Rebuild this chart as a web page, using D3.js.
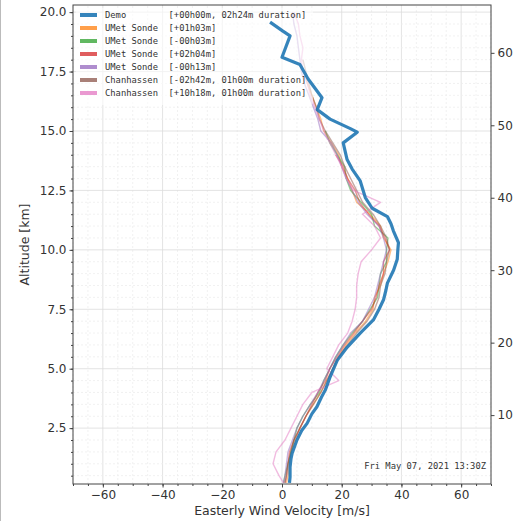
<!DOCTYPE html>
<html>
<head>
<meta charset="utf-8">
<script src="https://cdn.jsdelivr.net/npm/d3@7"></script>
<style>
  body { margin: 0; background: #fff; }
  svg { display: block; }
</style>
</head>
<body>
<div id="chart"></div>
<script>
const width = 514;
const height = 521;
const margin = { left: 73, right: 23, top: 5, bottom: 37 };

// Demo profile: [velocity m/s, altitude km]
const demoVel = [2.5, 2.7, 2.7, 3.0, 3.4, 5.0, 6.6, 8.4, 10.0, 11.7, 13.2, 14.5, 16.1, 17.3, 18.5, 21.8, 26.2, 30.6, 32.5, 34.0, 34.8, 35.3, 37.4, 38.6, 38.8, 39.0, 37.3, 36.5, 35.3, 30.2, 27.9, 26.2, 23.5, 21.8, 20.5, 25.2, 22.9, 16.1, 11.8, 13.4, 8.7, 6.0, 0.0, 2.7, 0.3, -4.0];
const demoAlt = [0.2, 0.44, 0.86, 1.2, 1.45, 2.0, 2.4, 2.7, 3.1, 3.4, 3.8, 4.1, 4.65, 5.0, 5.35, 5.9, 6.5, 7.05, 7.5, 7.9, 8.3, 8.6, 9.15, 9.6, 10.0, 10.3, 10.8, 11.1, 11.4, 11.75, 12.2, 12.9, 13.4, 13.8, 14.5, 14.95, 15.1, 15.5, 15.9, 16.4, 17.2, 17.8, 18.1, 19.0, 19.2, 19.58];

// sonde altitude levels (km)
const sondeAlt = [0.2, 0.5, 1, 1.5, 2, 2.5, 3, 3.5, 4, 4.5, 5, 5.5, 6, 6.5, 7, 7.5, 8, 8.5, 9, 9.5, 10, 10.5, 11, 11.5, 12, 12.5, 13, 13.5, 14, 14.5, 15, 15.5, 16, 16.5, 17, 17.5, 18, 18.5, 19, 19.5, 20];

const orangeVel = [1.5, 2, 2.5, 3, 4.5, 6, 8, 10.5, 13, 15, 17, 19, 21.5, 24.5, 28, 30.5, 31, 33, 34, 35.5, 36.5, 34, 33, 29.5, 25, 23.5, 22, 20, 19, 16.5, 14, 13, 11.5, 10, 8.5, 7.5];
const greenVel = [0.5, 1, 2, 3, 4, 5, 7, 9.5, 12.5, 14, 16, 18, 20.5, 23.5, 27, 29.5, 32, 32.5, 33, 35, 35, 35.5, 31, 30, 26.5, 23, 21.5, 21, 18.5, 16, 14.5];
const redVel = [1, 1.5, 2, 2.5, 4, 6, 8, 10, 12, 14.5, 16, 18.5, 21, 24, 27, 30, 31.5, 32.5, 34, 34, 36, 34.5, 32.5, 29, 26, 24.5, 22, 20.5, 18];
const purpleVel = [0.5, 1, 1.5, 2, 3.5, 5, 7, 9.5, 12, 14, 16, 18, 20.5, 23, 27, 29, 31, 32, 33, 34, 35, 34, 32.5, 28.5, 25.5, 23.5, 21.5, 20, 18.5, 16.5, 13, 12, 10.5, 9, 7.5, 6.5, 6, 5.5, 5, 4, 3.5];
const brownVel = [1, 1.5, 2, 3, 4, 6, 8, 10.5, 13, 15, 17, 19, 22, 25, 28.5, 31, 32.5, 33, 34.5, 35, 36, 35, 33, 30.5, 27, 25, 23, 21, 19.5, 17, 14.5, 12.5, 11.5, 10, 9, 8, 7];
const pinkVel = [0.5, -1, -3, -2, 1, 3, 5, 7, 10, 19, 15, 17, 19, 22, 23.5, 24.5, 25, 25, 25.5, 26.5, 30, 33, 31, 27, 33, 24, 21.5, 20, 18, 16, 14, 12.5, 11, 9.5, 8.5, 7, 6.5, 7, 6, 5.5, 4];

const seriesNames = ["Demo", "UMet Sonde", "UMet Sonde", "UMet Sonde", "UMet Sonde", "Chanhassen", "Chanhassen"];
const seriesTags = ["[+00h00m, 02h24m duration]", "[+01h03m]", "[-00h03m]", "[+02h04m]", "[-00h13m]", "[-02h42m, 01h00m duration]", "[+10h18m, 01h00m duration]"];
const seriesColors = ["#1f77b4", "#ff7f0e", "#2ca02c", "#d62728", "#9467bd", "#8c564b", "#e377c2"];
const sondeVels = [orangeVel, greenVel, redVel, purpleVel, brownVel, pinkVel];

const xTicks = [-60, -40, -20, 0, 20, 40, 60];
const yTicks = [2.5, 5.0, 7.5, 10.0, 12.5, 15.0, 17.5, 20.0];
const kftTicks = [10, 20, 30, 40, 50, 60];
const stamp = "Fri May 07, 2021 13:30Z";

const svg = d3.select("#chart").append("svg")
    .attr("width", width)
    .attr("height", height);

svg.append("rect").attr("width", width).attr("height", height).attr("fill", "#fff");
svg.append("line").attr("x1", 0.5).attr("x2", 0.5).attr("y1", 0).attr("y2", height)
    .attr("stroke", "#bbb");

const x = d3.scaleLinear().domain([-70, 70]).range([margin.left, width - margin.right]);
const y = d3.scaleLinear().domain([0.15, 20.3]).range([height - margin.bottom, margin.top]);
const yKft = d3.scaleLinear().domain(y.domain().map(d => d * 3.28084)).range(y.range());

const x0 = margin.left, x1 = width - margin.right;
const y0 = height - margin.bottom, y1 = margin.top;

// grid
const grid = svg.append("g");
d3.range(-70, 71, 5).forEach(v => {
    grid.append("line").attr("x1", x(v)).attr("x2", x(v)).attr("y1", y0).attr("y2", y1)
        .attr("stroke", v % 20 === 0 ? "#dcdcdc" : "#eeeeee")
        .attr("stroke-width", 0.8)
        .attr("stroke-dasharray", v % 20 === 0 ? null : "2,2");
});
d3.range(0.5, 20.3, 0.5).forEach(h => {
    const major = Math.abs(h / 2.5 - Math.round(h / 2.5)) < 1e-6;
    grid.append("line").attr("x1", x0).attr("x2", x1).attr("y1", y(h)).attr("y2", y(h))
        .attr("stroke", major ? "#dcdcdc" : "#eeeeee")
        .attr("stroke-width", 0.8)
        .attr("stroke-dasharray", major ? null : "2,2");
});

// thin sonde lines
const line = d3.line().x(d => x(d[0])).y(d => y(d[1]));

sondeVels.forEach((vels, i) => {
    const pts = vels.map((v, k) => [v, sondeAlt[k]]);
    svg.append("path").datum(pts)
        .attr("d", line)
        .attr("fill", "none")
        .attr("stroke", seriesColors[i + 1])
        .attr("stroke-width", 1.4)
        .attr("stroke-opacity", 0.5)
        .attr("stroke-linejoin", "round");
});

// legend (semi transparent, no edge)
const legend = svg.append("g");
legend.append("rect").attr("x", x0 + 3).attr("y", y1 + 3).attr("width", 237).attr("height", 97)
    .attr("rx", 3).attr("fill", "#fff").attr("fill-opacity", 0.6);
seriesNames.forEach((name, i) => {
    const ly = 15 + i * 13;
    legend.append("line").attr("x1", 80).attr("x2", 97).attr("y1", ly).attr("y2", ly)
        .attr("stroke", seriesColors[i]).attr("stroke-width", 4)
        .attr("stroke-opacity", i === 0 ? 0.9 : 0.75);
    legend.append("text").attr("x", 105).attr("y", ly + 3)
        .style("font-family", "'DejaVu Sans Mono', monospace").style("font-size", "8.8px")
        .style("white-space", "pre").attr("xml:space", "preserve")
        .attr("fill", "#333")
        .text(name.padEnd(12, " ") + seriesTags[i]);
});

// demo line on top
svg.append("path").datum(demoVel.map((v, k) => [v, demoAlt[k]]))
    .attr("d", line)
    .attr("fill", "none")
    .attr("stroke", seriesColors[0])
    .attr("stroke-width", 3.2)
    .attr("stroke-opacity", 0.9)
    .attr("stroke-linejoin", "round");

// frame
svg.append("rect").attr("x", x0).attr("y", y1).attr("width", x1 - x0).attr("height", y0 - y1)
    .attr("fill", "none").attr("stroke", "#444").attr("stroke-width", 1);

// axes
const tickFont = g => g.selectAll("text")
    .style("font-family", "'DejaVu Sans', sans-serif")
    .style("font-size", "12px")
    .attr("fill", "#333");

const xAxis = svg.append("g").attr("transform", `translate(0,${y0})`)
    .call(d3.axisBottom(x).tickValues(xTicks).tickSize(3.5).tickPadding(3).tickFormat(d => d < 0 ? "\u2212" + Math.abs(d) : d));
xAxis.select(".domain").remove();
xAxis.call(tickFont);
svg.append("g").attr("transform", `translate(0,${y0})`)
    .call(d3.axisBottom(x).tickValues(d3.range(-70, 71, 5)).tickSize(2).tickFormat(""))
    .select(".domain").remove();

const yAxis = svg.append("g").attr("transform", `translate(${x0},0)`)
    .call(d3.axisLeft(y).tickValues(yTicks).tickSize(3.5).tickPadding(3).tickFormat(d3.format(".1f")));
yAxis.select(".domain").remove();
yAxis.call(tickFont);
svg.append("g").attr("transform", `translate(${x0},0)`)
    .call(d3.axisLeft(y).tickValues(d3.range(0.5, 20.3, 0.5)).tickSize(2).tickFormat(""))
    .select(".domain").remove();

const rAxis = svg.append("g").attr("transform", `translate(${x1},0)`)
    .call(d3.axisRight(yKft).tickValues(kftTicks).tickSize(3.5).tickPadding(3));
rAxis.select(".domain").remove();
rAxis.call(tickFont);

svg.selectAll(".tick line").attr("stroke", "#444");

svg.append("text")
    .attr("x", (x0 + x1) / 2).attr("y", 515)
    .attr("text-anchor", "middle")
    .style("font-family", "'DejaVu Sans', sans-serif").style("font-size", "12.5px")
    .attr("fill", "#333")
    .text("Easterly Wind Velocity [m/s]");

svg.append("text")
    .attr("transform", `translate(29,${(y0 + y1) / 2}) rotate(-90)`)
    .attr("text-anchor", "middle")
    .style("font-family", "'DejaVu Sans', sans-serif").style("font-size", "12.5px")
    .attr("fill", "#333")
    .text("Altitude [km]");

svg.append("text")
    .attr("x", x1 - 5).attr("y", 469)
    .attr("text-anchor", "end")
    .style("font-family", "'DejaVu Sans Mono', monospace").style("font-size", "8.8px")
    .attr("fill", "#333")
    .text(stamp);
</script>
</body>
</html>
